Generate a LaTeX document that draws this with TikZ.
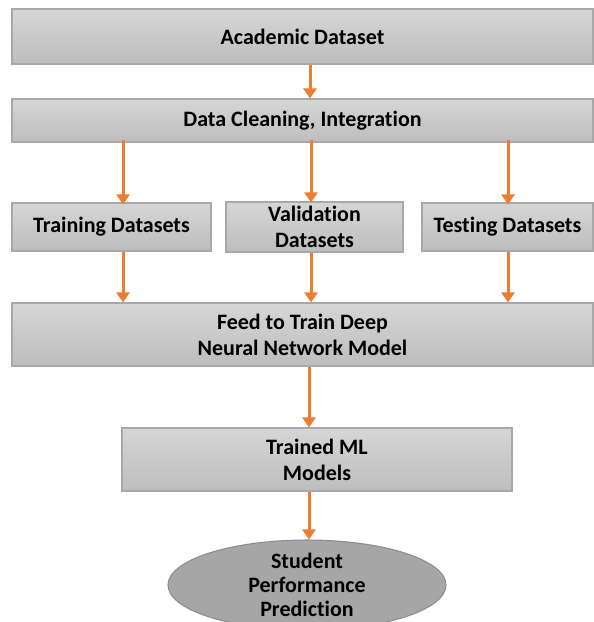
\documentclass[tikz,border=0pt]{standalone}
\usepackage{fontspec}
\setmainfont{Carlito}[Ligatures={NoCommon}]
\usetikzlibrary{shapes.geometric,arrows.meta}
\definecolor{boxtop}{HTML}{D6D6D6}
\definecolor{boxbot}{HTML}{BDBDBD}
\definecolor{boxedge}{HTML}{A8A8A8}
\definecolor{ellfill}{HTML}{A6A6A6}
\definecolor{elledge}{HTML}{8E8E8E}
\definecolor{arrcol}{HTML}{ED7D31}
\begin{document}
\begin{tikzpicture}[x=1pt,y=-1pt,
  procbox/.style={draw=boxedge, line width=1.1pt, top color=boxtop, bottom color=boxbot,
    rectangle, inner sep=0pt, align=center, font=\fontsize{22}{26}\selectfont\bfseries},
  endell/.style={draw=elledge, line width=1.1pt, fill=ellfill, ellipse, inner sep=0pt,
    align=center, font=\fontsize{22}{24}\selectfont\bfseries},
  flow/.style={draw=arrcol, line width=3pt, -{Triangle[width=13pt,length=10pt]}}]
\useasboundingbox (0,0) rectangle (594,622);
\node[procbox, minimum width=581pt, minimum height=55pt] (ad) at (302.5,36.5) {Academic Dataset};
\node[procbox, minimum width=581pt, minimum height=43pt] (dc) at (302.5,120.5) {Data Cleaning, Integration};
\node[procbox, minimum width=199pt, minimum height=48pt] (tr) at (111.5,227) {Training Datasets};
\node[procbox, minimum width=177pt, minimum height=50pt] (va) at (314.5,227) {Validation\\Datasets};
\node[procbox, minimum width=171pt, minimum height=48pt] (te) at (507.5,227) {Testing Datasets};
\node[procbox, minimum width=581pt, minimum height=63pt] (fd) at (302.5,334.5) {Feed to Train Deep\\Neural Network Model};
\node[procbox, minimum width=390pt, minimum height=63pt] (tm) at (317,459.5) {Trained ML\\Models};
\node[endell, minimum width=278pt, minimum height=80pt] (sp) at (307,585) {Student\\Performance\\Prediction};
\coordinate (c0) at (310,0);
\coordinate (c1) at (123,0);
\coordinate (c2) at (311,0);
\coordinate (c3) at (508,0);
\coordinate (cm) at (309,0);
\draw[flow] (ad.south -| c0) -- (dc.north -| c0);
\draw[flow] ([yshift=3pt]dc.south -| c1) -- ([yshift=-2pt]tr.north -| c1);
\draw[flow] ([yshift=3pt]dc.south -| c2) -- ([yshift=-1pt]va.north -| c2);
\draw[flow] ([yshift=3pt]dc.south -| c3) -- ([yshift=-2pt]te.north -| c3);
\draw[flow] (tr.south -| c1) -- (fd.north -| c1);
\draw[flow] (va.south -| c2) -- (fd.north -| c2);
\draw[flow] (te.south -| c3) -- (fd.north -| c3);
\draw[flow] (fd.south -| cm) -- (tm.north -| cm);
\draw[flow] (tm.south -| cm) -- (sp.north -| cm);
\end{tikzpicture}
\end{document}
